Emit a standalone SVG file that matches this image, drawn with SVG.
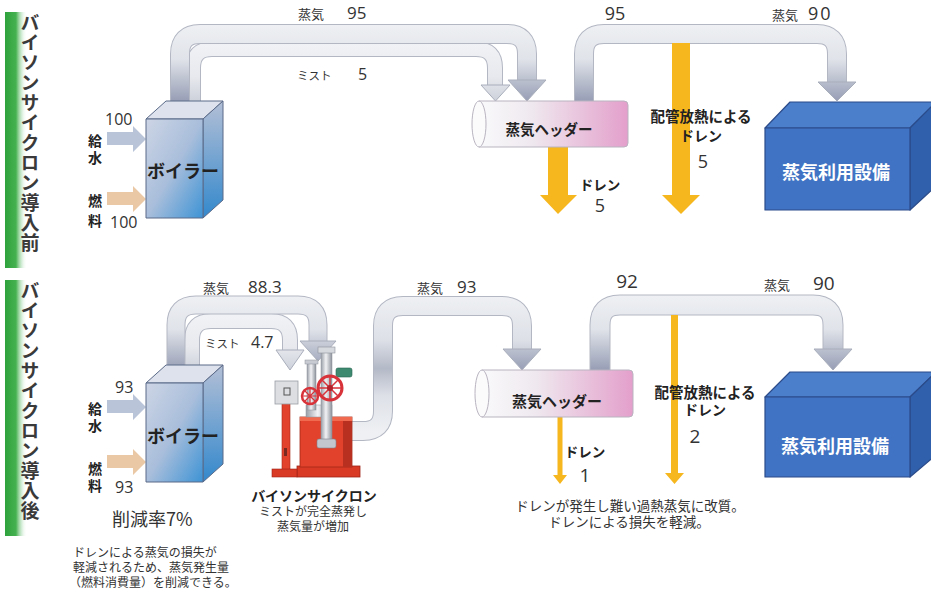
<svg xmlns="http://www.w3.org/2000/svg" width="931" height="594" viewBox="0 0 931 594">
  <style>
    .jp { font-family: "Noto Sans CJK JP", "Noto Sans", sans-serif; fill: #333; }
    .jb { font-family: "Noto Sans CJK JP", "Noto Sans", sans-serif; font-weight: bold; fill: #222; }
    .num { font-family: "Open Sans", "Noto Sans", sans-serif; fill: #333; }
    .side { font-family: "Noto Sans CJK JP", sans-serif; font-weight: bold; fill: #3a3a3a; font-size: 19px; writing-mode: vertical-rl; letter-spacing: 1px; }
    .casing { fill: none; stroke: #b3b7c3; stroke-linecap: butt; stroke-linejoin: round; }
    .pipe { fill: none; stroke-linecap: butt; stroke-linejoin: round; }
    .head { stroke: #a9aebb; stroke-width: 1; stroke-linejoin: round; }
    .drain { fill: #f6b61e; }
    .edge { stroke: #5b6a88; stroke-width: 1; stroke-linejoin: round; }
    .bedge { stroke: #2b4b8a; stroke-width: 1.2; stroke-linejoin: round; }
    .white { font-family: "Noto Sans CJK JP", sans-serif; font-weight: bold; fill: #fff; font-size: 18px; }
  </style>
  <defs>
    <linearGradient id="green" x1="0" y1="0" x2="1" y2="0">
      <stop offset="0" stop-color="#2ea23c"/>
      <stop offset="0.5" stop-color="#45b150"/>
      <stop offset="1" stop-color="#ffffff" stop-opacity="0"/>
    </linearGradient>
    <!-- steam pipe shading, upper flow -->
    <linearGradient id="steamA" gradientUnits="userSpaceOnUse" x1="0" y1="25" x2="0" y2="101">
      <stop offset="0" stop-color="#eef0f3"/>
      <stop offset="0.45" stop-color="#e0e3e9"/>
      <stop offset="1" stop-color="#979eb5"/>
    </linearGradient>
    <linearGradient id="mistA" gradientUnits="userSpaceOnUse" x1="0" y1="40" x2="0" y2="101">
      <stop offset="0" stop-color="#f2f3f6"/>
      <stop offset="0.6" stop-color="#e7e9ee"/>
      <stop offset="1" stop-color="#cdd1da"/>
    </linearGradient>
    <!-- steam pipe shading, lower flow -->
    <linearGradient id="steamB" gradientUnits="userSpaceOnUse" x1="0" y1="296" x2="0" y2="370">
      <stop offset="0" stop-color="#eef0f3"/>
      <stop offset="0.45" stop-color="#e0e3e9"/>
      <stop offset="1" stop-color="#979eb5"/>
    </linearGradient>
    <linearGradient id="mistB" gradientUnits="userSpaceOnUse" x1="0" y1="312" x2="0" y2="370">
      <stop offset="0" stop-color="#f2f3f6"/>
      <stop offset="0.6" stop-color="#e7e9ee"/>
      <stop offset="1" stop-color="#cdd1da"/>
    </linearGradient>
    <linearGradient id="steamS" gradientUnits="userSpaceOnUse" x1="0" y1="297" x2="0" y2="440">
      <stop offset="0" stop-color="#eef0f3"/>
      <stop offset="0.3" stop-color="#dde0e7"/>
      <stop offset="0.5" stop-color="#b4b9c7"/>
      <stop offset="0.69" stop-color="#dde0e7"/>
      <stop offset="0.94" stop-color="#eef0f3"/>
    </linearGradient>
    <linearGradient id="headerFill" x1="0" y1="0" x2="1" y2="0">
      <stop offset="0" stop-color="#f9f9fb"/>
      <stop offset="0.35" stop-color="#efe9ef"/>
      <stop offset="1" stop-color="#e39fcb"/>
    </linearGradient>
    <linearGradient id="boilerFront" x1="0" y1="0" x2="1" y2="1">
      <stop offset="0" stop-color="#cdd5e5"/>
      <stop offset="0.5" stop-color="#a9bedb"/>
      <stop offset="1" stop-color="#3d93d5"/>
    </linearGradient>
    <linearGradient id="boilerSide" x1="0" y1="0" x2="0" y2="1">
      <stop offset="0" stop-color="#b3bfd6"/>
      <stop offset="1" stop-color="#3388cc"/>
    </linearGradient>
    <linearGradient id="metal" x1="0" y1="0" x2="1" y2="0">
      <stop offset="0" stop-color="#9a9fa8"/>
      <stop offset="0.45" stop-color="#f1f2f4"/>
      <stop offset="1" stop-color="#8d929b"/>
    </linearGradient>
  </defs>

  <rect width="931" height="594" fill="#fff"/>

  <!-- section labels -->
  <g id="label-before">
    <rect x="5" y="12" width="22" height="256" fill="url(#green)"/>
    <text class="side" x="30" y="13">バイソンサイクロン導入前</text>
  </g>
  <g id="label-after">
    <rect x="5" y="280" width="22" height="256" fill="url(#green)"/>
    <text class="side" x="30" y="281">バイソンサイクロン導入後</text>
  </g>

  <!-- connectors: steam pipes, feed arrows and drains -->
  <g id="connectors">
    <!-- upper: boiler to header, mist (inner) -->
    <path class="casing" stroke-width="16" d="M193,104 V68 Q193,49 212,49 H476 Q495,49 495,68 V86"/>
    <path class="pipe" stroke="url(#mistA)" stroke-width="14" d="M193,104 V68 Q193,49 212,49 H476 Q495,49 495,68 V86"/>
    <polygon class="head" fill="url(#mistA)" points="481,85 510,85 495.5,101"/>
    <!-- upper: boiler to header, steam (outer) -->
    <path class="casing" stroke-width="20" d="M180,104 V54 Q180,34 200,34 H507 Q527,34 527,54 V81"/>
    <path class="pipe" stroke="url(#steamA)" stroke-width="18" d="M180,104 V54 Q180,34 200,34 H507 Q527,34 527,54 V81"/>
    <polygon class="head" fill="url(#steamA)" points="508,80 546,80 527,101"/>
    <!-- upper: header to equipment -->
    <path class="casing" stroke-width="20" d="M584,101 V54 Q584,34 604,34 H817 Q837,34 837,54 V83"/>
    <path class="pipe" stroke="url(#steamA)" stroke-width="18" d="M584,101 V54 Q584,34 604,34 H817 Q837,34 837,54 V83"/>
    <polygon class="head" fill="url(#steamA)" points="818,82 856,82 837,101"/>
    <!-- upper drains -->
    <polygon class="drain" points="548,147 568,147 568,195 577,195 558,214 540,195 548,195"/>
    <polygon class="drain" points="672,43 690,43 690,195 700,195 681,214 662,195 672,195"/>
    <!-- upper feeds -->
    <polygon fill="#b9c4d8" points="107,132 133,132 133,126 146,139 133,152 133,145 107,145"/>
    <polygon fill="#eac8a5" points="107,192 133,192 133,186 146,199 133,212 133,205 107,205"/>

    <!-- lower: boiler to cyclone, mist (inner) -->
    <path class="casing" stroke-width="16" d="M192,368 V340 Q192,321 211,321 H271 Q290,321 290,340 V351"/>
    <path class="pipe" stroke="url(#mistB)" stroke-width="14" d="M192,368 V340 Q192,321 211,321 H271 Q290,321 290,340 V351"/>
    <polygon class="head" fill="url(#mistB)" points="276,350 304,350 290,370"/>
    <!-- lower: boiler to cyclone, steam (outer) -->
    <path class="casing" stroke-width="19" d="M176,368 V325 Q176,305 196,305 H298 Q318,305 318,325 V342"/>
    <path class="pipe" stroke="url(#steamB)" stroke-width="17" d="M176,368 V325 Q176,305 196,305 H298 Q318,305 318,325 V342"/>
    <polygon class="head" fill="url(#steamB)" points="300,341 336,341 318,361"/>
    <!-- lower: cyclone to header -->
    <path class="casing" stroke-width="20" d="M350,431 H363 Q383,431 383,411 V326 Q383,306 403,306 H502 Q522,306 522,326 V350"/>
    <path class="pipe" stroke="url(#steamS)" stroke-width="18" d="M350,431 H363 Q383,431 383,411 V326 Q383,306 403,306 H502 Q522,306 522,326 V350"/>
    <polygon class="head" fill="url(#steamB)" points="503,349 541,349 522,370"/>
    <!-- lower: header to equipment -->
    <path class="casing" stroke-width="21" d="M600,370 V325 Q600,305 620,305 H813 Q833,305 833,325 V350"/>
    <path class="pipe" stroke="url(#steamB)" stroke-width="19" d="M600,370 V325 Q600,305 620,305 H813 Q833,305 833,325 V350"/>
    <polygon class="head" fill="url(#steamB)" points="814,349 852,349 833,370"/>
    <!-- lower drains -->
    <polygon class="drain" points="557.5,417 562.5,417 562.5,475 567,475 560,484 553,475 557.5,475"/>
    <polygon class="drain" points="671,315 678,315 678,473 684,473 674.5,484 665,473 671,473"/>
    <!-- lower feeds -->
    <polygon fill="#b9c4d8" points="107,400 133,400 133,394 146,407 133,420 133,413 107,413"/>
    <polygon fill="#eac8a5" points="107,455 133,455 133,449 146,462 133,475 133,468 107,468"/>
  </g>

  <!-- boiler, before -->
  <g id="boiler-before">
    <polygon class="edge" fill="#dde2ec" points="146,119 166,101 223,101 203,119"/>
    <polygon class="edge" fill="url(#boilerSide)" points="203,119 223,101 223,200 203,218"/>
    <rect class="edge" x="146" y="119" width="57" height="99" fill="url(#boilerFront)"/>
    <text class="jb" x="183" y="178" font-size="18" text-anchor="middle">ボイラー</text>
  </g>

  <!-- steam header, before -->
  <g id="header-before">
    <path d="M479,101 H624 Q628,101 628,105 V143 Q628,147 624,147 H479 Z" fill="url(#headerFill)" stroke="#b9b4c0" stroke-width="1"/>
    <ellipse cx="479" cy="124" rx="7" ry="23" fill="#fbfbfc" stroke="#b9b4c0" stroke-width="1"/>
    <text class="jb" x="549" y="135" font-size="14.5" text-anchor="middle">蒸気ヘッダー</text>
  </g>

  <!-- steam equipment, before -->
  <g id="equipment-before">
    <polygon class="bedge" fill="#4b7ecb" points="765,128 790,102 936,102 910,128"/>
    <polygon class="bedge" fill="#3060ab" points="910,128 936,102 936,186 910,210"/>
    <rect class="bedge" x="765" y="128" width="145" height="82" fill="#4073c3"/>
    <text class="white" x="836" y="179" text-anchor="middle">蒸気利用設備</text>
  </g>

  <!-- boiler, after -->
  <g id="boiler-after">
    <polygon class="edge" fill="#dde2ec" points="146,383 166,365 223,365 203,383"/>
    <polygon class="edge" fill="url(#boilerSide)" points="203,383 223,365 223,464 203,482"/>
    <rect class="edge" x="146" y="383" width="57" height="99" fill="url(#boilerFront)"/>
    <text class="jb" x="183" y="443" font-size="18" text-anchor="middle">ボイラー</text>
  </g>

  <!-- mist separator unit -->
  <g id="cyclone">
    <rect x="297" y="466" width="63" height="11" fill="#d93a26" stroke="#9e2415" stroke-width="0.8"/>
    <rect x="300" y="417" width="52" height="50" fill="#e2412b" stroke="#a42a18" stroke-width="0.8"/>
    <rect x="343" y="417" width="9" height="50" fill="#b8301f"/>
    <rect x="300" y="417" width="52" height="4" fill="#ef6a4f"/>
    <rect x="282" y="403" width="8" height="68" fill="#e2412b" stroke="#a42a18" stroke-width="0.6"/>
    <rect x="272" y="469" width="25" height="8" fill="#d93a26" stroke="#9e2415" stroke-width="0.6"/>
    <rect x="284" y="448" width="3" height="8" fill="#7a2a20"/>
    <rect x="275" y="381" width="23" height="23" fill="#dcdee2" stroke="#9a9da4" stroke-width="0.8"/>
    <rect x="284" y="388" width="6" height="7" fill="none" stroke="#555" stroke-width="1"/>
    <rect x="306" y="405" width="26" height="12" fill="url(#metal)" stroke="#8e939c" stroke-width="0.5"/>
    <rect x="307" y="362" width="9" height="48" fill="url(#metal)" stroke="#8e939c" stroke-width="0.5"/>
    <rect x="305" y="360" width="13" height="4" fill="#c8ccd2" stroke="#8e939c" stroke-width="0.5"/>
    <rect x="321" y="352" width="11" height="90" fill="url(#metal)" stroke="#8e939c" stroke-width="0.5"/>
    <rect x="318" y="347" width="17" height="6" fill="#d6d9de" stroke="#8e939c" stroke-width="0.6"/>
    <rect x="317" y="439" width="19" height="9" rx="2" fill="#c3c7cd" stroke="#7f848d" stroke-width="0.6"/>
    <rect x="336" y="368" width="16" height="9" rx="2" fill="#3e8a70" stroke="#2a6450" stroke-width="0.6"/>
    <circle cx="330" cy="388" r="12" fill="none" stroke="#d8333a" stroke-width="3"/>
    <path d="M318,388 H342 M330,376 V400 M322,380 L338,396 M338,380 L322,396" stroke="#d8333a" stroke-width="1.5"/>
    <circle cx="330" cy="388" r="3" fill="#b3222a"/>
    <circle cx="310" cy="396" r="8" fill="none" stroke="#d8333a" stroke-width="2.5"/>
    <path d="M302,396 H318 M310,388 V404 M304,390 L316,402 M316,390 L304,402" stroke="#d8333a" stroke-width="1.2"/>
  </g>

  <!-- steam header, after -->
  <g id="header-after">
    <path d="M482,370 H629 Q633,370 633,374 V413 Q633,417 629,417 H482 Z" fill="url(#headerFill)" stroke="#b9b4c0" stroke-width="1"/>
    <ellipse cx="482" cy="393.5" rx="7" ry="23.5" fill="#fbfbfc" stroke="#b9b4c0" stroke-width="1"/>
    <text class="jb" x="557" y="407" font-size="15" text-anchor="middle">蒸気ヘッダー</text>
  </g>

  <!-- steam equipment, after -->
  <g id="equipment-after">
    <polygon class="bedge" fill="#4b7ecb" points="765,397 790,372 936,372 910,397"/>
    <polygon class="bedge" fill="#3060ab" points="910,397 936,372 936,455 910,477"/>
    <rect class="bedge" x="765" y="397" width="145" height="80" fill="#4073c3"/>
    <text class="white" x="835" y="453" text-anchor="middle">蒸気利用設備</text>
  </g>

  <!-- flow labels, before -->
  <g id="labels-before">
    <text class="jb" x="95" y="146" font-size="14" text-anchor="middle">給</text>
    <text class="jb" x="95" y="163" font-size="14" text-anchor="middle">水</text>
    <text class="jb" x="95" y="206" font-size="14" text-anchor="middle">燃</text>
    <text class="jb" x="95" y="226" font-size="14" text-anchor="middle">料</text>
    <text class="num" x="105" y="125" font-size="16">100</text>
    <text class="num" x="110" y="228" font-size="16">100</text>
    <text class="jp" x="298" y="19" font-size="13">蒸気</text>
    <text class="num" x="347" y="19" font-size="17">95</text>
    <text class="jp" x="297" y="80" font-size="11.5">ミスト</text>
    <text class="num" x="358" y="80" font-size="16">5</text>
    <text class="num" x="615" y="20" font-size="18" text-anchor="middle">95</text>
    <text class="jp" x="772" y="20" font-size="13">蒸気</text>
    <text class="num" x="808" y="20" font-size="18" letter-spacing="2">90</text>
    <text class="jb" x="600" y="190" font-size="13.5" text-anchor="middle">ドレン</text>
    <text class="num" x="600" y="212" font-size="18" text-anchor="middle">5</text>
    <text class="jb" x="701" y="122" font-size="14.5" text-anchor="middle">配管放熱による</text>
    <text class="jb" x="701" y="141" font-size="14" text-anchor="middle">ドレン</text>
    <text class="num" x="703" y="168" font-size="18" text-anchor="middle">5</text>
  </g>

  <!-- flow labels and notes, after -->
  <g id="labels-after">
    <text class="jb" x="95" y="414" font-size="14" text-anchor="middle">給</text>
    <text class="jb" x="95" y="431" font-size="14" text-anchor="middle">水</text>
    <text class="jb" x="95" y="474" font-size="14" text-anchor="middle">燃</text>
    <text class="jb" x="95" y="491" font-size="14" text-anchor="middle">料</text>
    <text class="num" x="115" y="393" font-size="16">93</text>
    <text class="num" x="115" y="493" font-size="16">93</text>
    <text class="jp" x="203" y="293" font-size="13">蒸気</text>
    <text class="num" x="248" y="293" font-size="17">88.3</text>
    <text class="jp" x="205" y="348" font-size="11.5">ミスト</text>
    <text class="num" x="251" y="348" font-size="16">4.7</text>
    <text class="jp" x="417" y="293" font-size="13">蒸気</text>
    <text class="num" x="457" y="293" font-size="17">93</text>
    <text class="num" x="627" y="288" font-size="19" text-anchor="middle">92</text>
    <text class="jp" x="764" y="290" font-size="13">蒸気</text>
    <text class="num" x="813" y="290" font-size="19">90</text>
    <text class="jb" x="585" y="457" font-size="13.5" text-anchor="middle">ドレン</text>
    <text class="num" x="585" y="482" font-size="19" text-anchor="middle">1</text>
    <text class="jb" x="705" y="398" font-size="14.5" text-anchor="middle">配管放熱による</text>
    <text class="jb" x="705" y="415" font-size="14" text-anchor="middle">ドレン</text>
    <text class="num" x="695" y="443" font-size="19" text-anchor="middle">2</text>
    <text class="jb" x="314" y="501" font-size="14" text-anchor="middle">バイソンサイクロン</text>
    <text class="jp" x="313" y="516" font-size="12" text-anchor="middle">ミストが完全蒸発し</text>
    <text class="jp" x="313" y="531" font-size="12" text-anchor="middle">蒸気量が増加</text>
    <text class="jp" x="112" y="526" font-size="18">削減率7%</text>
    <text class="jp" x="73" y="557" font-size="12">ドレンによる蒸気の損失が</text>
    <text class="jp" x="73" y="572" font-size="12">軽減されるため、蒸気発生量</text>
    <text class="jp" x="69" y="587" font-size="12">（燃料消費量）を削減できる。</text>
    <text class="jp" x="630" y="511" font-size="13.5" text-anchor="middle">ドレンが発生し難い過熱蒸気に改質。</text>
    <text class="jp" x="629" y="527" font-size="13.5" text-anchor="middle">ドレンによる損失を軽減。</text>
  </g>
</svg>
